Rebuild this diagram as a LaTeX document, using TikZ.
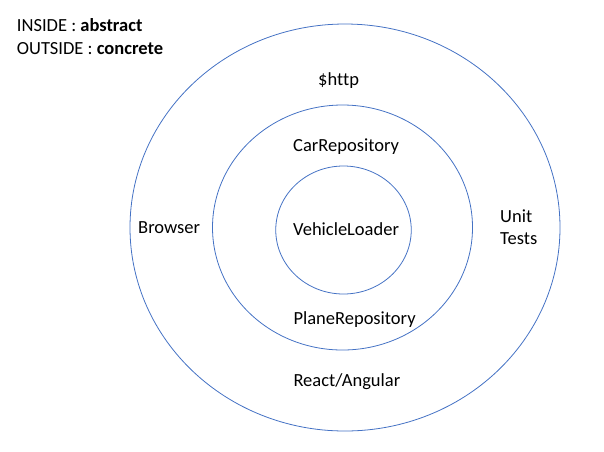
\documentclass[tikz,border=0pt]{standalone}
\usepackage{fontspec}
\setmainfont[Ligatures=NoCommon]{Carlito}
\usetikzlibrary{shapes.geometric}
\definecolor{ringblue}{HTML}{4472C4}
\tikzset{
  ring/.style={ellipse, draw=ringblue, line width=0.8pt, inner sep=0pt},
  lbl/.style={anchor=base west, inner sep=0pt, font=\fontsize{18.5}{22}\selectfont},
}
\begin{document}
\begin{tikzpicture}[x=1pt,y=-1pt]
\useasboundingbox (0,0) rectangle (604,451);
\node[ring, minimum width=430pt, minimum height=407pt] (outer) at (345,227.5) {};
\node[ring, minimum width=260pt, minimum height=245pt] (middle) at (342.5,227.5) {};
\node[ring, minimum width=135.5pt, minimum height=128pt] (inner) at (343.5,230) {};
\node[lbl] (legend1) at (16.7,31.7) {INSIDE : \textbf{abstract}};
\node[lbl] (legend2) at (16.7,54.3) {OUTSIDE : \textbf{concrete}};
\node[lbl] (http) at (318,85) {\$http};
\node[lbl] (car) at (293,151.7) {CarRepository};
\node[lbl] (vehicle) at (293,235) {VehicleLoader};
\node[lbl] (browser) at (138,233.3) {Browser};
\node[lbl] (unit) at (500,222.7) {Unit};
\node[lbl] (tests) at (500,244.3) {Tests};
\node[lbl] (plane) at (293.3,324.3) {PlaneRepository};
\node[lbl] (react) at (293.3,386.7) {React/Angular};
\end{tikzpicture}
\end{document}
